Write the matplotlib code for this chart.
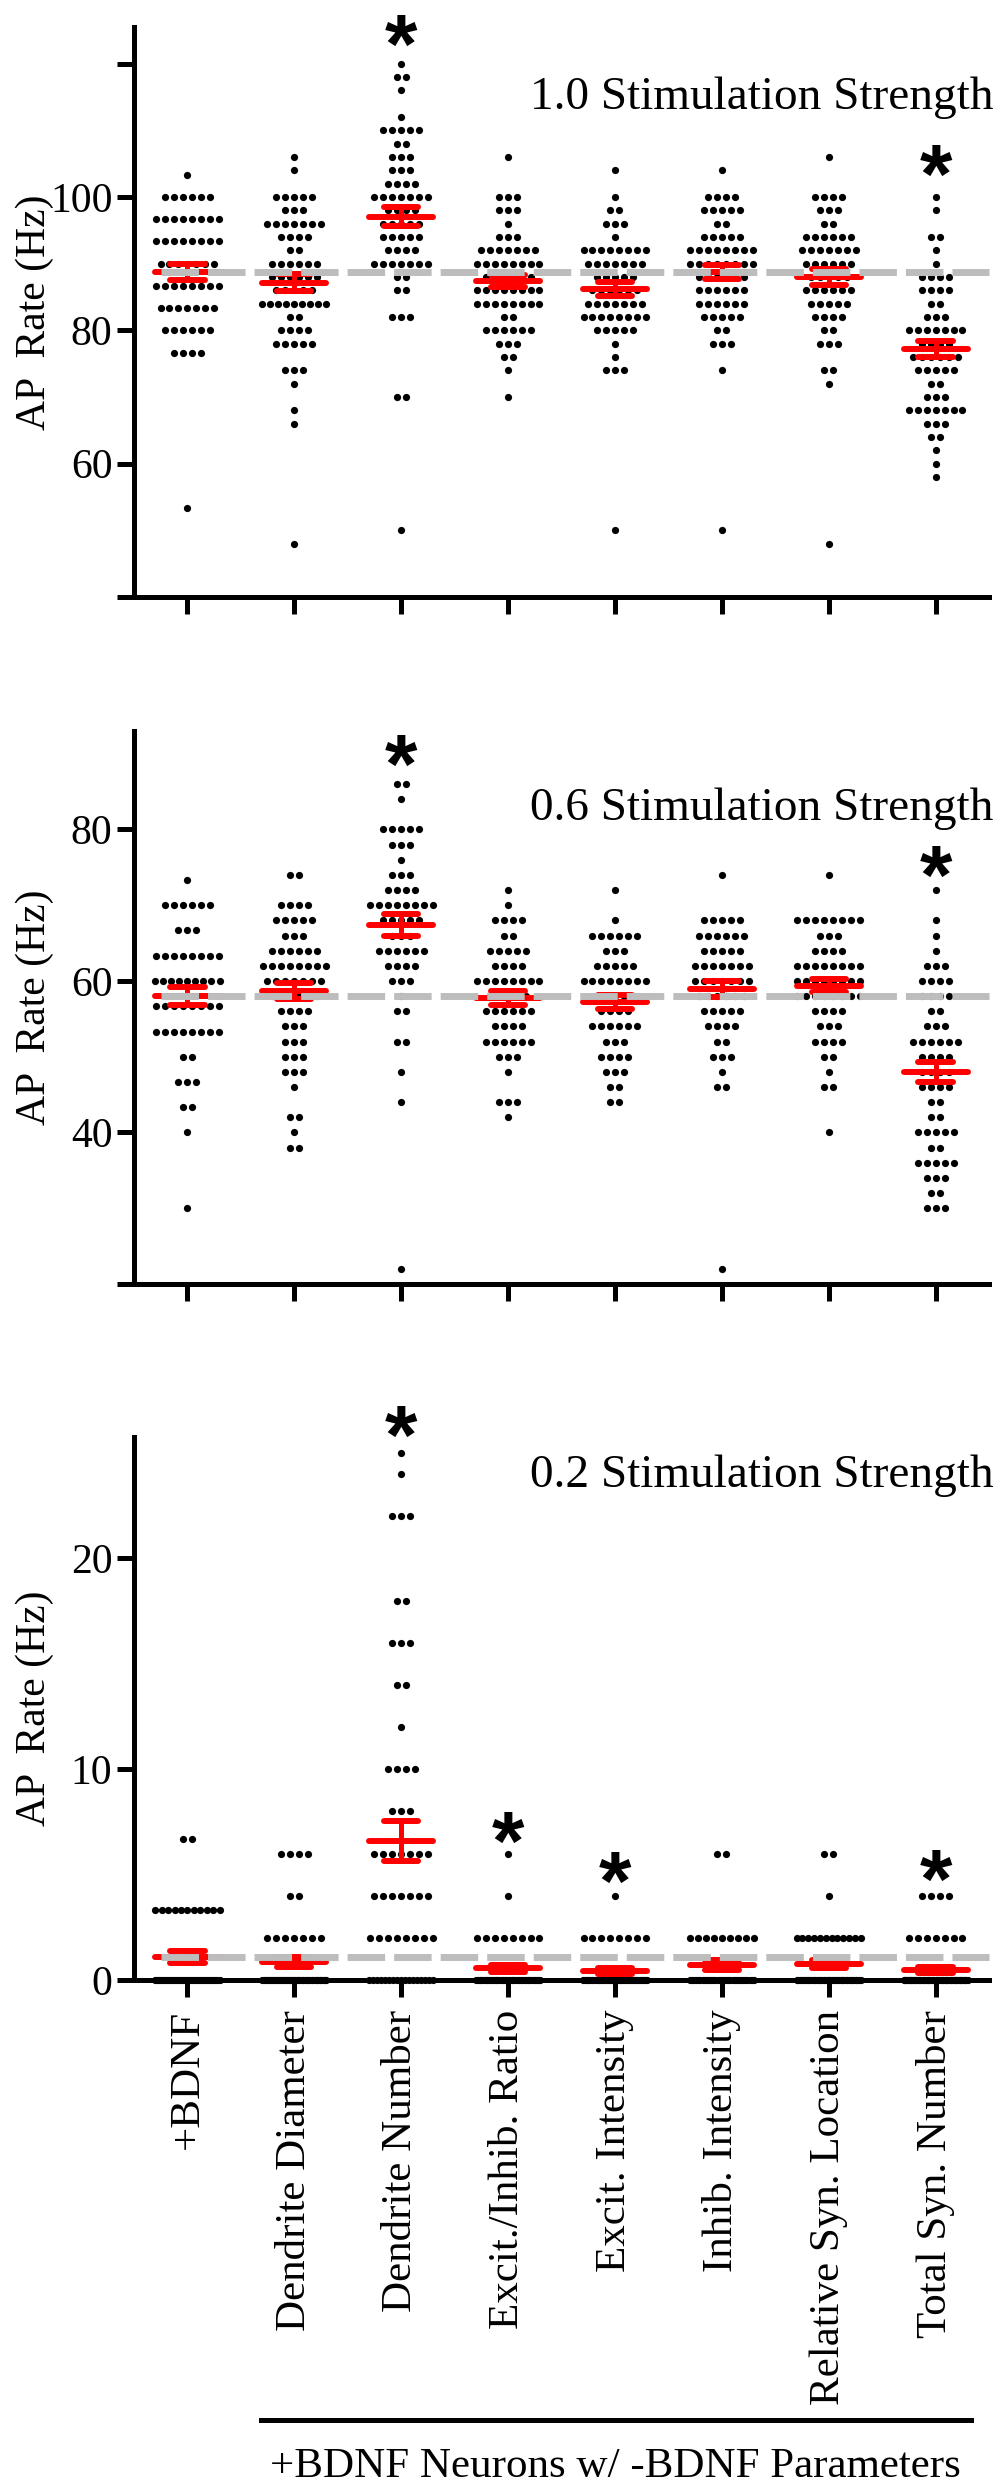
import numpy as np
import matplotlib.pyplot as plt
from matplotlib.lines import Line2D

plt.rcParams['font.family'] = ['Liberation Serif', 'DejaVu Serif']

groups = ["+BDNF", "Dendrite Diameter", "Dendrite Number", "Excit./Inhib. Ratio",
          "Excit. Intensity", "Inhib. Intensity", "Relative Syn. Location", "Total Syn. Number"]

# each group: (AP rate in Hz, number of neurons at that rate)
rows_10 = [
    [(103.33, 1), (100, 6), (96.67, 8), (93.33, 8), (90, 7), (86.67, 8), (83.33, 7), (80, 6), (76.67, 4), (53.33, 1)],
    [(106, 1), (104, 1), (100, 5), (98, 3), (96, 7), (94, 4), (92, 2), (90, 6), (88, 6), (86, 5), (84, 9), (82, 2),
     (80, 4), (78, 5), (74, 3), (72, 1), (68, 1), (66, 1), (48, 1)],
    [(120, 1), (118, 2), (116, 1), (112, 1), (110, 5), (108, 2), (106, 3), (104, 3), (102, 4), (100, 7), (98, 4),
     (96, 5), (94, 5), (92, 4), (90, 7), (88, 2), (86, 2), (82, 3), (70, 2), (50, 1)],
    [(106, 1), (100, 3), (98, 3), (96, 1), (94, 3), (92, 7), (90, 8), (88, 6), (86, 8), (84, 8), (82, 2), (80, 6),
     (78, 3), (76, 2), (74, 1), (70, 1)],
    [(104, 1), (100, 1), (98, 2), (96, 3), (94, 1), (92, 8), (90, 7), (88, 5), (86, 6), (84, 7), (82, 8), (80, 5),
     (78, 1), (76, 1), (74, 3), (50, 1)],
    [(104, 1), (100, 4), (98, 5), (96, 2), (94, 5), (92, 8), (90, 8), (88, 6), (86, 6), (84, 6), (82, 5), (80, 2),
     (78, 3), (74, 1), (50, 1)],
    [(106, 1), (100, 4), (98, 3), (96, 2), (94, 6), (92, 7), (90, 6), (88, 5), (86, 6), (84, 5), (82, 4), (80, 2),
     (78, 3), (74, 2), (72, 1), (48, 1)],
    [(100, 1), (98, 1), (94, 2), (92, 1), (90, 1), (88, 4), (86, 4), (84, 2), (82, 3), (80, 7), (78, 4), (76, 6),
     (74, 5), (72, 2), (70, 3), (68, 7), (66, 3), (64, 2), (62, 1), (60, 1), (58, 1)],
]

rows_06 = [
    [(73.33, 1), (70, 6), (66.67, 3), (63.33, 8), (60, 9), (56.67, 8), (53.33, 8), (50, 2), (46.67, 3), (43.33, 2),
     (40, 1), (30, 1)],
    [(74, 2), (70, 4), (68, 5), (66, 3), (64, 6), (62, 8), (60, 7), (58, 6), (56, 4), (54, 3), (52, 3), (50, 3),
     (48, 3), (46, 1), (42, 2), (40, 1), (38, 2)],
    [(86, 2), (84, 1), (80, 5), (78, 3), (76, 1), (74, 3), (72, 4), (70, 8), (68, 5), (66, 3), (64, 6), (62, 4),
     (60, 3), (58, 1), (56, 2), (52, 2), (48, 1), (44, 1), (22, 1)],
    [(72, 1), (70, 1), (68, 4), (66, 2), (64, 5), (62, 4), (60, 8), (58, 5), (56, 6), (54, 4), (52, 6), (50, 3),
     (48, 1), (44, 3), (42, 1)],
    [(72, 1), (68, 1), (66, 6), (64, 3), (62, 5), (60, 8), (58, 5), (56, 4), (54, 6), (52, 3), (50, 4), (48, 3),
     (46, 2), (44, 2)],
    [(74, 1), (68, 5), (66, 6), (64, 5), (62, 7), (60, 7), (58, 6), (56, 5), (54, 4), (52, 2), (50, 3), (48, 1),
     (46, 2), (22, 1)],
    [(74, 1), (68, 8), (66, 3), (64, 4), (62, 8), (60, 8), (58, 8), (56, 4), (54, 3), (52, 4), (50, 2), (48, 1),
     (46, 2), (40, 1)],
    [(72, 1), (68, 1), (66, 1), (64, 1), (62, 3), (60, 4), (58, 4), (56, 2), (54, 3), (52, 6), (50, 4), (48, 4),
     (46, 4), (44, 2), (42, 2), (40, 5), (38, 2), (36, 5), (34, 3), (32, 2), (30, 3)],
]

rows_02 = [
    [(6.67, 2), (3.33, 11), (0, 33)],
    [(6, 4), (4, 2), (2, 7), (0, 40)],
    [(25, 1), (24, 1), (22, 3), (18, 2), (16, 3), (14, 2), (12, 1), (10, 4), (8, 3), (6, 7), (4, 7), (2, 8), (0, 17)],
    [(6, 1), (4, 1), (2, 8), (0, 37)],
    [(4, 1), (2, 8), (0, 36)],
    [(6, 2), (2, 9), (0, 31)],
    [(6, 2), (4, 1), (2, 12), (0, 39)],
    [(4, 4), (2, 7), (0, 51)],
]

# significance marks: (group index, height)
stars_10 = [(2, 125.8), (7, 106.3)]
stars_06 = [(2, 91.2), (7, 76.6)]
stars_02 = [(2, 26.8), (3, 7.5), (4, 5.6), (7, 5.7)]

DOT_STEP = 0.084
MAX_W = 0.60
AX_LW = 3.6


def draw_panel(ax, rows, ylim, yticks, yticklabels, title, title_y, stars):
    base = None
    for i, grp in enumerate(rows):
        vals = np.concatenate([np.full(n, v, dtype=float) for v, n in grp])
        for v, n in grp:
            step = DOT_STEP if n < 2 else min(DOT_STEP, MAX_W / (n - 1))
            xs = i + (np.arange(n) - (n - 1) / 2) * step
            ax.scatter(xs, np.full(n, v), s=27, c='black', linewidths=0, zorder=2, clip_on=False)
        m = vals.mean()
        sem = vals.std(ddof=1) / np.sqrt(len(vals))
        ax.plot([i - 0.30, i + 0.30], [m, m], color='#ff0000', lw=4.3, solid_capstyle='round', zorder=3)
        for y in (m - sem, m + sem):
            ax.plot([i - 0.16, i + 0.16], [y, y], color='#ff0000', lw=4.3, solid_capstyle='round', zorder=3)
        ax.plot([i, i], [m - sem, m + sem], color='#ff0000', lw=3.6, zorder=3)
        if i == 0:
            base = m
    ax.plot([-0.25, 7.5], [base, base], color='#bdbdbd', lw=5, dashes=(5.4, 1.3),
            solid_capstyle='butt', dash_capstyle='butt', zorder=4, clip_on=False)

    ax.set_xlim(-0.5, 7.5)
    ax.set_ylim(*ylim)
    ax.set_yticks(yticks)
    ax.set_yticklabels(yticklabels, fontsize=30)
    ax.set_xticks(range(len(groups)))
    ax.set_xticklabels([])
    for s in ['top', 'right']:
        ax.spines[s].set_visible(False)
    for s in ['left', 'bottom']:
        ax.spines[s].set_linewidth(AX_LW)
        ax.spines[s].set_zorder(5)
    ax.tick_params(length=12.5, width=AX_LW, direction='out', pad=3)
    ax.set_ylabel('AP  Rate (Hz)', fontsize=30)
    ax.yaxis.set_label_coords(-0.094, 0.5)
    ax.text(1.005, title_y, title, transform=ax.transAxes, ha='right', va='baseline', fontsize=34)
    for gi, sy in stars:
        ax.annotate('*', (gi, sy), xytext=(0, -0.58 * 60), textcoords='offset points',
                    ha='center', va='baseline', fontsize=60, fontweight='bold',
                    family='Liberation Sans', annotation_clip=False)


fig = plt.figure(figsize=(10, 24.82), dpi=100)
H = 2482.0
ax1 = fig.add_axes([0.134, 1 - 597 / H, 0.855, 570 / H])
ax2 = fig.add_axes([0.134, 1 - 1284 / H, 0.855, 553 / H])
ax3 = fig.add_axes([0.134, 1 - 1980 / H, 0.855, 543 / H])

draw_panel(ax1, rows_10, (40, 125.5), [40, 60, 80, 100, 120], ['', '60', '80', '100', ''],
           '1.0 Stimulation Strength', 0.856, stars_10)
draw_panel(ax2, rows_06, (20, 93), [20, 40, 60, 80], ['', '40', '60', '80'],
           '0.6 Stimulation Strength', 0.839, stars_06)
draw_panel(ax3, rows_02, (0, 25.76), [0, 10, 20], ['0', '10', '20'],
           '0.2 Stimulation Strength', 0.9085, stars_02)

ax3.set_xticklabels(groups, rotation=90, fontsize=31)
ax3.tick_params(axis='x', pad=9)

fig.add_artist(Line2D([0.261, 0.971], [1 - 2420 / H] * 2, lw=AX_LW, color='black'))
fig.text(0.615, 1 - 2477 / H, '+BDNF Neurons w/ -BDNF Parameters', ha='center', va='baseline', fontsize=31)

fig.savefig('out.png', dpi=100)
